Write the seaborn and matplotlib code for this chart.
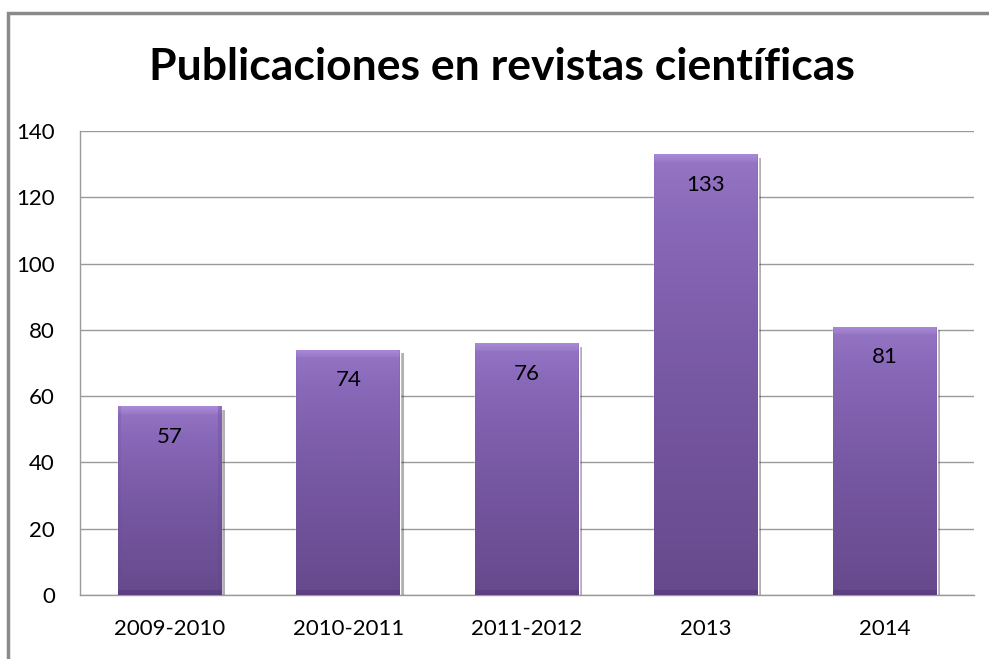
import matplotlib
matplotlib.use("Agg")
import matplotlib.pyplot as plt
import matplotlib.patheffects as pe
from matplotlib.colors import LinearSegmentedColormap
import seaborn as sns
import numpy as np
import pandas as pd

# Data
periods = ["2009-2010", "2010-2011", "2011-2012", "2013", "2014"]
publications = [57, 74, 76, 133, 81]

df = pd.DataFrame({"periodo": periods, "publicaciones": publications})

sns.set_style("white")
plt.rcParams["font.family"] = ["Lato", "DejaVu Sans"]
plt.rcParams["text.color"] = "black"

fig = plt.figure(figsize=(9.89, 6.59), dpi=100)
ax = fig.add_axes([0.0809, 0.0971, 0.904, 0.7041])

sns.barplot(data=df, x="periodo", y="publicaciones", color="#7a5aa6",
            width=0.58, ax=ax, zorder=2, saturation=1)

ax.set_ylim(0, 140)
ax.set_yticks(range(0, 141, 20))
ax.set_xlabel("")
ax.set_ylabel("")
ax.yaxis.grid(True, color="#9a9a9a", linewidth=1, zorder=0)
ax.set_axisbelow(True)
for side in ["top", "right"]:
    ax.spines[side].set_visible(False)
for side in ["left", "bottom"]:
    ax.spines[side].set_color("#9a9a9a")
    ax.spines[side].set_linewidth(1)
ax.tick_params(axis="both", length=0, labelsize=16, colors="black")
ax.tick_params(axis="y", pad=18)
ax.tick_params(axis="x", pad=17)

# gradient fill with bevel on each bar
cmap = LinearSegmentedColormap.from_list(
    "bar", ["#5b4080", "#694c90", "#7657a2", "#8868b8", "#a98ad8"])
for patch, val in zip(ax.patches, publications):
    x0, y0 = patch.get_x(), patch.get_y()
    w, h = patch.get_width(), patch.get_height()
    p0 = ax.transData.transform((x0, y0))
    p1 = ax.transData.transform((x0 + w, y0 + h))
    wpx = max(int(p1[0] - p0[0]), 2)
    hpx = max(int(p1[1] - p0[1]), 2)
    rows = np.linspace(0.85, 0.2, hpx)[:, None] * np.ones((1, wpx))
    bev = 8
    rows[:bev, :] = np.linspace(1.0, 0.88, bev)[:, None]
    rows[-5:, :] = 0.02
    edge = np.ones(wpx)
    edge[:3] = 0.9
    edge[-4:] = 0.82
    img = np.clip(rows * edge[None, :], 0, 1)
    patch.set_path_effects([pe.SimplePatchShadow(offset=(2.5, -2.5), alpha=0.35),
                            pe.Normal()])
    im = ax.imshow(img, extent=(x0, x0 + w, y0, y0 + h), origin="upper",
                   cmap=cmap, vmin=0, vmax=1, aspect="auto", zorder=3,
                   interpolation="bilinear")
    im.set_clip_path(patch)
    ax.annotate(str(val), (x0 + w / 2, y0 + h), xytext=(0, -22),
                textcoords="offset points", ha="center", va="center",
                fontsize=16, color="black", zorder=4)

ax.set_xlim(-0.5, len(periods) - 0.5)
ax.set_ylim(0, 140)

fig.text(0.508, 0.899, "Publicaciones en revistas científicas",
         ha="center", va="center", fontsize=32, fontweight="bold", color="black")

# outer chart border (only top and left visible)
border = plt.Rectangle((0.0085, -0.1), 1.2, 0.1 + (1 - 0.019), transform=fig.transFigure,
                       fill=False, edgecolor="#8a8a8a", linewidth=2.5)
fig.patches.append(border)

fig.savefig("out.png", dpi=100)
